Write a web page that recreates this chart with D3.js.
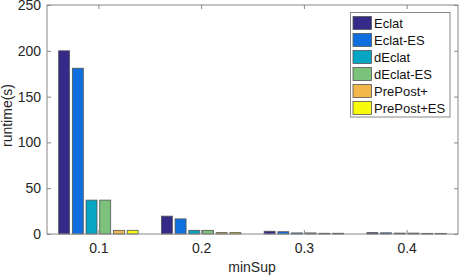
<!DOCTYPE html>
<html><head><meta charset="utf-8">
<script src="https://cdn.jsdelivr.net/npm/d3@7"></script>
<style>body{margin:0;background:#fff}text{font-family:"Liberation Sans",Arial,sans-serif}</style>
</head><body><svg id="c" width="459" height="277"></svg>
<script>
const categories = ["0.1","0.2","0.3","0.4"];
const series = ["Eclat","Eclat-ES","dEclat","dEclat-ES","PrePost+","PrePost+ES"];
const Eclat      = [200, 19.5, 3.0, 1.5];
const EclatES    = [181, 16.5, 2.5, 1.3];
const dEclat     = [37, 4.0, 1.2, 1.0];
const dEclatES   = [37, 4.0, 1.2, 1.0];
const PrePost    = [4.0, 1.5, 0.8, 0.7];
const PrePostES  = [4.0, 1.5, 0.8, 0.7];
const yTicks = [0,50,100,150,200,250];
const colors = ["#352a87","#0f6fde","#05a6c4","#7dc27c","#f1b74a","#f9fb0e"];
const values = [Eclat, EclatES, dEclat, dEclatES, PrePost, PrePostES];

const svg = d3.select("#c");
const L=47, R=458, T=5, B=234;
const x0 = d3.scaleBand().domain(categories).range([L,R]).paddingInner(0).paddingOuter(0);
const x1 = d3.scaleBand().domain(series).range([0, x0.bandwidth()*0.8]).paddingInner(0.2).paddingOuter(0.1);
const y = d3.scaleLinear().domain([0,250]).range([B,T]);

categories.forEach((c,ci)=>{
  const gx = x0(c) + x0.bandwidth()*0.1;
  series.forEach((s,si)=>{
    const v = values[si][ci];
    svg.append("rect")
      .attr("x", gx + x1(s)).attr("width", x1.bandwidth())
      .attr("y", y(v)).attr("height", B - y(v))
      .attr("fill", colors[si]).attr("stroke","#555").attr("stroke-width",0.8);
  });
});

// box
svg.append("rect").attr("x",L).attr("y",T).attr("width",R-L).attr("height",B-T)
  .attr("fill","none").attr("stroke","#888").attr("stroke-width",1);

const gy = svg.append("g").attr("transform",`translate(${L},0)`)
  .call(d3.axisLeft(y).tickValues(yTicks).tickSize(-4).tickPadding(6));
const gyr = svg.append("g").attr("transform",`translate(${R},0)`)
  .call(d3.axisRight(y).tickValues(yTicks).tickSize(-4).tickFormat(""));
const xc = d3.scalePoint().domain(categories).range([x0("0.1")+x0.bandwidth()/2, x0("0.4")+x0.bandwidth()/2]);
const gx = svg.append("g").attr("transform",`translate(0,${B})`)
  .call(d3.axisBottom(xc).tickSize(-4).tickPadding(9));
const gxt = svg.append("g").attr("transform",`translate(0,${T})`)
  .call(d3.axisTop(xc).tickSize(-4).tickFormat(""));
[gy,gyr,gx,gxt].forEach(g=>{
  g.select(".domain").remove();
  g.selectAll("line").attr("stroke","#888");
  g.selectAll("text").attr("font-size",14).attr("fill","#262626").attr("font-family","Liberation Sans, Arial, sans-serif");
});

svg.append("text").attr("x",252).attr("y",272).attr("text-anchor","middle")
  .attr("font-size",14).attr("fill","#262626").text("minSup");
svg.append("text").attr("transform",`translate(12,${(T+B)/2 - 4}) rotate(-90)`).attr("text-anchor","middle")
  .attr("font-size",14).attr("fill","#262626").text("runtime(s)");

// legend
const lg = svg.append("g");
lg.append("rect").attr("x",350.5).attr("y",12.5).attr("width",99.5).attr("height",104.5)
  .attr("fill","#fff").attr("stroke","#888");
series.forEach((s,i)=>{
  const yy = 16.5 + i*17;
  lg.append("rect").attr("x",353).attr("y",yy).attr("width",18.5).attr("height",13)
    .attr("fill",colors[i]).attr("stroke","#555").attr("stroke-width",0.8);
  lg.append("text").attr("x",374).attr("y",yy+11).attr("font-size",13).attr("fill","#111").text(s);
});
</script></body></html>
